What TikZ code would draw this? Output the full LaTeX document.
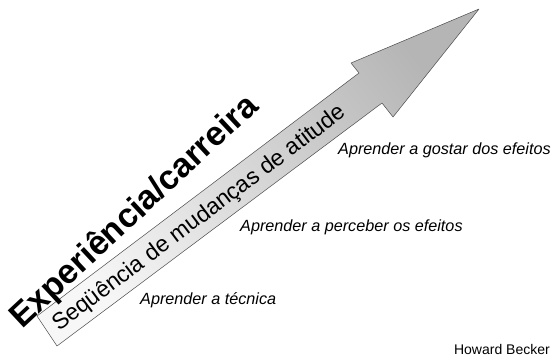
\documentclass[tikz,border=0pt]{standalone}
\usepackage{fontspec}
\setmainfont{Liberation Sans}
\begin{document}
\begin{tikzpicture}[x=1pt, y=-1pt, line join=round, line cap=round,
    etapa/.style={font=\fontsize{16.2}{19}\selectfont\itshape, anchor=base west, inner sep=0pt},
    eixo/.style={font=\fontsize{23}{27}\selectfont, anchor=base west, inner sep=0pt, rotate=37},
    titulo/.style={font=\fontsize{34}{40}\selectfont\bfseries, anchor=base west, inner sep=0pt, rotate=43}]
    \def\ang{37} % inclinacao da seta
    \useasboundingbox (0,0) rectangle (553,356);
    % seta com degrade
    \shade[top color=gray!58, bottom color=gray!6, shading angle=\ang-90, draw=gray!60!black, line width=0.5pt]
        (37,316) -- (359,73) -- (351,63) -- (479,9) -- (393,117) -- (382,103) -- (57,346) -- cycle;
    \node[eixo] (seq) at (59,332) {Seqüência de mudanças de atitude};
    \node[titulo] (exp) at (22,330) {Experiência/carreira};
    \node[etapa] (tec) at (140,304) {Aprender a técnica};
    \node[etapa] (per) at (240,231) {Aprender a perceber os efeitos};
    \node[etapa] (gos) at (338,154) {Aprender a gostar dos efeitos};
    \node[font=\fontsize{14}{16}\selectfont, anchor=base east, inner sep=0pt] (aut) at (550,354) {Howard Becker};
\end{tikzpicture}
\end{document}
